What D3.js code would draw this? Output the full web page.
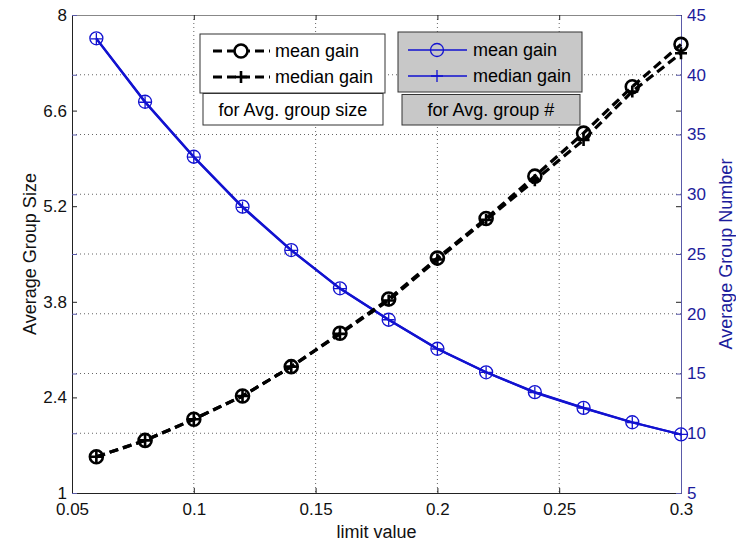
<!DOCTYPE html>
<html>
<head>
<meta charset="utf-8">
<script src="https://cdn.jsdelivr.net/npm/d3@7"></script>
<style>
  body { margin: 0; background: #fff; }
  text { font-family: "Liberation Sans", Arial, sans-serif; }
</style>
</head>
<body>
<div id="chart"></div>
<script>
// chart data
const limitValues = [0.06, 0.08, 0.10, 0.12, 0.14, 0.16, 0.18, 0.20, 0.22, 0.24, 0.26, 0.28, 0.30];
const sizeMean = [1.53, 1.77, 2.08, 2.42, 2.85, 3.34, 3.84, 4.44, 5.02, 5.64, 6.27, 6.95, 7.57];
const sizeMedian = [1.53, 1.77, 2.08, 2.42, 2.85, 3.33, 3.82, 4.42, 5.00, 5.58, 6.17, 6.88, 7.44];
const numberMean = [43.05, 37.74, 33.14, 28.96, 25.33, 22.13, 19.5, 17.07, 15.1, 13.44, 12.12, 10.92, 9.9];
const numberMedian = [43.0, 37.7, 33.1, 28.9, 25.3, 22.1, 19.5, 17.05, 15.1, 13.4, 12.1, 10.9, 9.9];
const xTicks = [0.05, 0.1, 0.15, 0.2, 0.25, 0.3];
const leftTicks = [1, 2.4, 3.8, 5.2, 6.6, 8];
const rightTicks = [5, 10, 15, 20, 25, 30, 35, 40, 45];

// setting up constants
const FRAME_WIDTH = 736;
const FRAME_HEIGHT = 546;
const MARGINS = {left: 72, right: 55, top: 15, bottom: 53};
const VIS_WIDTH = FRAME_WIDTH - MARGINS.left - MARGINS.right;
const VIS_HEIGHT = FRAME_HEIGHT - MARGINS.top - MARGINS.bottom;

const BLUE = "#1212d0";
const AXIS_BLUE = "#1c1c9c";
const PLUS = "M-6,0H6M0,-6V6";

const svg = d3.select("#chart").append("svg")
  .attr("width", FRAME_WIDTH)
  .attr("height", FRAME_HEIGHT);

const g = svg.append("g")
  .attr("transform", `translate(${MARGINS.left},${MARGINS.top})`);

const x = d3.scaleLinear().domain([0.05, 0.3]).range([0, VIS_WIDTH]);
const yL = d3.scaleLinear().domain([1, 8]).range([VIS_HEIGHT, 0]);
const yR = d3.scaleLinear().domain([5, 45]).range([VIS_HEIGHT, 0]);

// dotted grid
g.selectAll(".vgrid").data(xTicks.slice(1, -1)).enter().append("line")
  .attr("x1", d => x(d)).attr("x2", d => x(d))
  .attr("y1", 0).attr("y2", VIS_HEIGHT)
  .attr("stroke", "#666").attr("stroke-dasharray", "1,3");
g.selectAll(".hgrid").data(rightTicks.slice(1, -1)).enter().append("line")
  .attr("x1", 0).attr("x2", VIS_WIDTH)
  .attr("y1", d => yR(d)).attr("y2", d => yR(d))
  .attr("stroke", "#666").attr("stroke-dasharray", "1,3");

// axes
const xAxis = g.append("g")
  .attr("transform", `translate(0,${VIS_HEIGHT})`)
  .call(d3.axisBottom(x).tickValues(xTicks).tickSizeInner(-5).tickSizeOuter(0).tickPadding(10)
    .tickFormat(d3.format("~g")));
const xTop = g.append("g")
  .call(d3.axisTop(x).tickValues(xTicks).tickSizeInner(-5).tickSizeOuter(0).tickFormat(""));
const leftAxis = g.append("g")
  .call(d3.axisLeft(yL).tickValues(leftTicks).tickSizeInner(-5).tickSizeOuter(0).tickPadding(5)
    .tickFormat(d3.format("~g")));
const leftMirror = g.append("g")
  .attr("transform", `translate(${VIS_WIDTH},0)`)
  .call(d3.axisRight(yL).tickValues(leftTicks).tickSizeInner(-5).tickSizeOuter(0).tickFormat(""));
const rightAxis = g.append("g")
  .attr("transform", `translate(${VIS_WIDTH},0)`)
  .call(d3.axisRight(yR).tickValues(rightTicks).tickSizeInner(-5).tickSizeOuter(0).tickPadding(6));
const rightMirror = g.append("g")
  .call(d3.axisLeft(yR).tickValues(rightTicks).tickSizeInner(-5).tickSizeOuter(0).tickFormat(""));

[xAxis, xTop, leftAxis, leftMirror].forEach(a => {
  a.select(".domain").attr("stroke", "#222");
  a.selectAll(".tick line").attr("stroke", "#222");
  a.selectAll("text").attr("font-size", 17).attr("fill", "#111");
});
xTop.select(".domain").attr("stroke", "#888");
rightAxis.select(".domain").attr("stroke", "#5a5aa8");
rightAxis.selectAll(".tick line").attr("stroke", "#5a5aa8");
rightAxis.selectAll("text").attr("font-size", 17).attr("fill", AXIS_BLUE);
rightMirror.select(".domain").remove();
rightMirror.selectAll(".tick line").attr("stroke", "#5a5aa8");

// axis labels
g.append("text")
  .attr("x", VIS_WIDTH / 2).attr("y", VIS_HEIGHT + 45)
  .attr("text-anchor", "middle").attr("font-size", 18).attr("fill", "#111")
  .text("limit value");
g.append("text")
  .attr("transform", `translate(-36,${VIS_HEIGHT / 2}) rotate(-90)`)
  .attr("text-anchor", "middle").attr("font-size", 18).attr("fill", "#111")
  .text("Average Group Size");
g.append("text")
  .attr("transform", `translate(${VIS_WIDTH + 51},${VIS_HEIGHT / 2}) rotate(-90)`)
  .attr("text-anchor", "middle").attr("font-size", 18).attr("fill", AXIS_BLUE)
  .text("Average Group Number");

// blue series (right axis)
const lineR = vals => d3.line().x((d, i) => x(limitValues[i])).y(d => yR(d))(vals);
g.append("path").attr("d", lineR(numberMean))
  .attr("fill", "none").attr("stroke", BLUE).attr("stroke-width", 2.2);
g.append("path").attr("d", lineR(numberMedian))
  .attr("fill", "none").attr("stroke", BLUE).attr("stroke-width", 2.2);
g.selectAll(".nmean").data(numberMean).enter().append("circle")
  .attr("cx", (d, i) => x(limitValues[i])).attr("cy", d => yR(d)).attr("r", 6.5)
  .attr("fill", "none").attr("stroke", BLUE).attr("stroke-width", 1.3);
g.selectAll(".nmed").data(numberMedian).enter().append("path")
  .attr("transform", (d, i) => `translate(${x(limitValues[i])},${yR(d)})`)
  .attr("d", PLUS)
  .attr("fill", "none").attr("stroke", BLUE).attr("stroke-width", 1.3);

// black series (left axis)
const lineL = vals => d3.line().x((d, i) => x(limitValues[i])).y(d => yL(d))(vals);
g.append("path").attr("d", lineL(sizeMedian))
  .attr("fill", "none").attr("stroke", "#000").attr("stroke-width", 3.2)
  .attr("stroke-dasharray", "9,5");
g.append("path").attr("d", lineL(sizeMean))
  .attr("fill", "none").attr("stroke", "#000").attr("stroke-width", 3.2)
  .attr("stroke-dasharray", "9,5");
g.selectAll(".smean").data(sizeMean).enter().append("circle")
  .attr("cx", (d, i) => x(limitValues[i])).attr("cy", d => yL(d)).attr("r", 6.5)
  .attr("fill", "none").attr("stroke", "#000").attr("stroke-width", 2.6);
g.selectAll(".smed").data(sizeMedian).enter().append("path")
  .attr("transform", (d, i) => `translate(${x(limitValues[i])},${yL(d)})`)
  .attr("d", PLUS)
  .attr("fill", "none").attr("stroke", "#000").attr("stroke-width", 2.6);

// legends (page coordinates)
const leg = svg.append("g");
function legendBox(x0, y0, w, h, fill) {
  leg.append("rect").attr("x", x0).attr("y", y0).attr("width", w).attr("height", h)
    .attr("fill", fill).attr("stroke", "#333").attr("stroke-width", 1);
}
legendBox(200, 34, 185, 59, "#fff");
legendBox(203, 93.5, 180, 31.5, "#fff");
legendBox(398, 32, 184, 60, "#c8c8c8");
legendBox(402, 94.5, 178, 30.5, "#c8c8c8");

const legendRows = [
  {label: "mean gain", y: 51, marker: "circle"},
  {label: "median gain", y: 77, marker: "plus"}
];
legendRows.forEach(r => {
  // black entry
  leg.append("line").attr("x1", 213).attr("x2", 270).attr("y1", r.y).attr("y2", r.y)
    .attr("stroke", "#000").attr("stroke-width", 3.2).attr("stroke-dasharray", "9,5");
  // blue entry
  leg.append("line").attr("x1", 408).attr("x2", 467).attr("y1", r.y - 1).attr("y2", r.y - 1)
    .attr("stroke", BLUE).attr("stroke-width", 1.3);
  if (r.marker === "circle") {
    leg.append("circle").attr("cx", 241).attr("cy", r.y).attr("r", 6.5)
      .attr("fill", "#fff").attr("stroke", "#000").attr("stroke-width", 2.6);
    leg.append("circle").attr("cx", 437).attr("cy", r.y - 1).attr("r", 6.5)
      .attr("fill", "none").attr("stroke", BLUE).attr("stroke-width", 1.3);
  } else {
    leg.append("path").attr("transform", `translate(241,${r.y})`).attr("d", PLUS)
      .attr("stroke", "#000").attr("stroke-width", 2.6);
    leg.append("path").attr("transform", `translate(437,${r.y - 1})`).attr("d", PLUS)
      .attr("stroke", BLUE).attr("stroke-width", 1.3);
  }
  leg.append("text").attr("x", 275).attr("y", r.y + 6).attr("font-size", 18).attr("fill", "#000")
    .text(r.label);
  leg.append("text").attr("x", 473).attr("y", r.y + 5).attr("font-size", 18).attr("fill", "#000")
    .text(r.label);
});
leg.append("text").attr("x", 293).attr("y", 116).attr("text-anchor", "middle")
  .attr("font-size", 18).attr("fill", "#000").text("for Avg. group size");
leg.append("text").attr("x", 491).attr("y", 116).attr("text-anchor", "middle")
  .attr("font-size", 18).attr("fill", "#000").text("for Avg. group #");
</script>
</body>
</html>
